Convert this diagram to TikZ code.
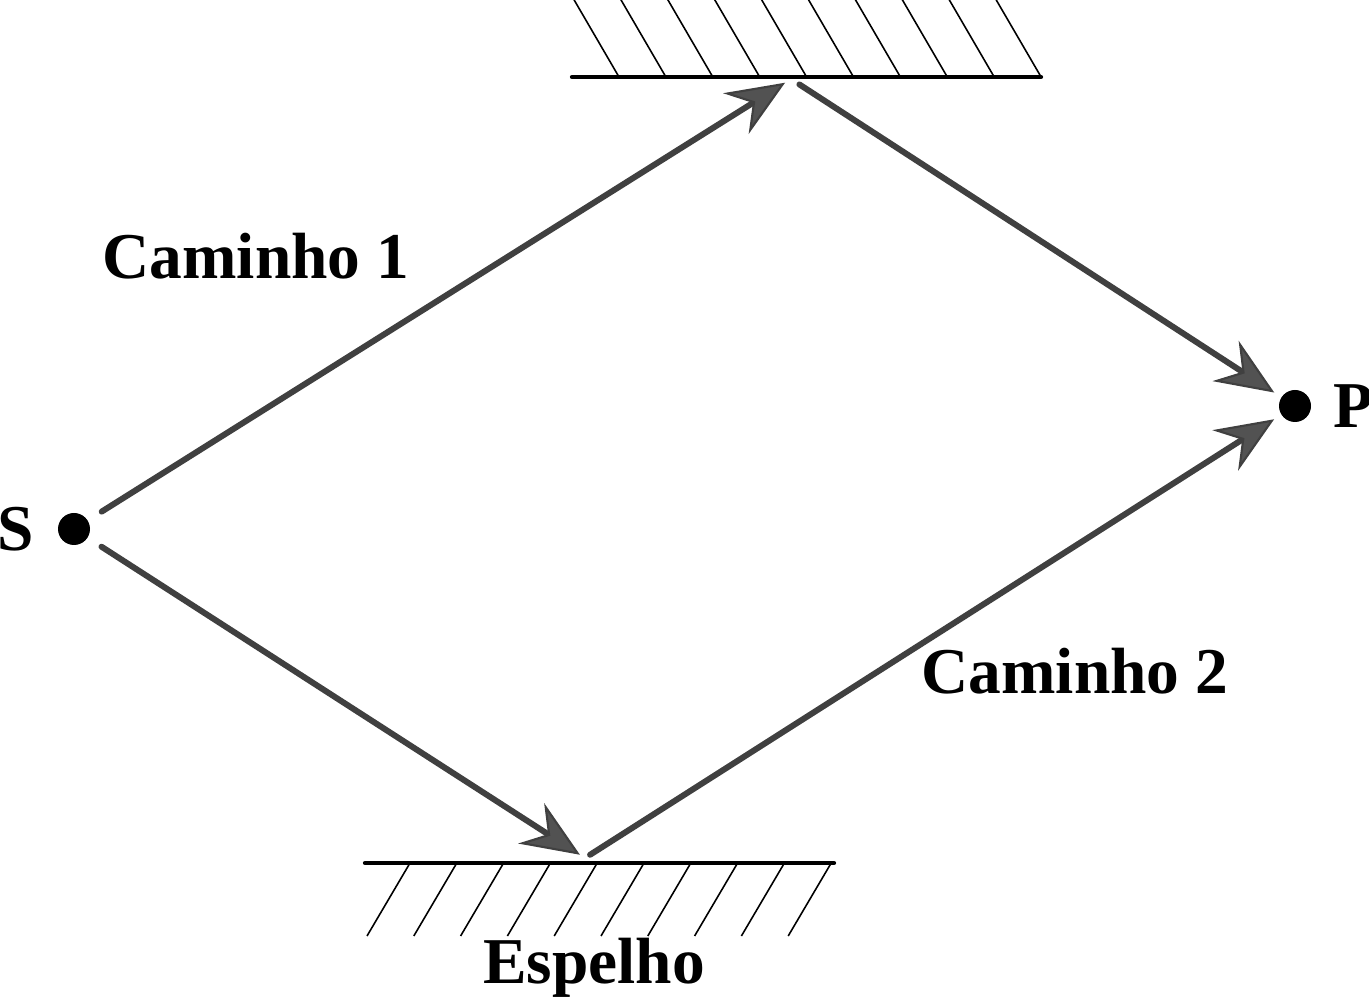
\documentclass[tikz,border=0pt]{standalone}
\usepackage{fontspec}
\setmainfont{Liberation Serif}
\usetikzlibrary{arrows.meta,positioning}
\tikzset{
  dot/.style={circle,fill=black,inner sep=0pt,minimum size=3.2mm},
  lbl/.style={font=\fontsize{18.6}{20}\selectfont\bfseries,inner sep=0pt},
  ray/.style={draw=black!75,line width=1.7pt,line cap=round,
    -{Stealth[length=5.8mm,width=4.8mm,inset=2mm,fill=black!68,line width=0.6pt]}},
  mirror/.style={line width=1.2pt,line cap=round},
  hatch/.style={line width=0.45pt}
}
\begin{document}
\begin{tikzpicture}[x=0.1mm,y=-0.1mm]
\useasboundingbox (0,0) rectangle (1369,1007);
% espelhos
\draw[mirror](572,77)--(1041,77);
\foreach \i in {0,...,9}
  \draw[hatch](619+\i*46.9,77)--++(-46,-79);
\draw[mirror](365,863)--(834,863);
\foreach \i in {0,...,9}
  \draw[hatch](410+\i*46.8,863)--++(-43,73);
% fonte e ponto
\node[dot](s)at(74,529){};
\node[lbl,left=2.3mm of s]{S};
\node[dot](p)at(1295,406){};
\node[lbl,right=2.1mm of p]{P};
\coordinate(m1)at(791,79);
\coordinate(m2)at(585,858);
% caminhos
\draw[ray,shorten <=1.6mm,shorten >=0.7mm](s)--(m1);
\draw[ray,shorten <=1mm,shorten >=0.8mm](m1)--(p);
\draw[ray,shorten <=1.6mm,shorten >=0.6mm](s)--(m2);
\draw[ray,shorten <=0.6mm,shorten >=0.8mm](m2)--(p);
\node[lbl,anchor=base](c1)at(256,279){Caminho 1};
\node[lbl,anchor=base](c2)at(1075,694){Caminho 2};
\node[lbl,anchor=base](esp)at(594,984){Espelho};
\end{tikzpicture}
\end{document}
